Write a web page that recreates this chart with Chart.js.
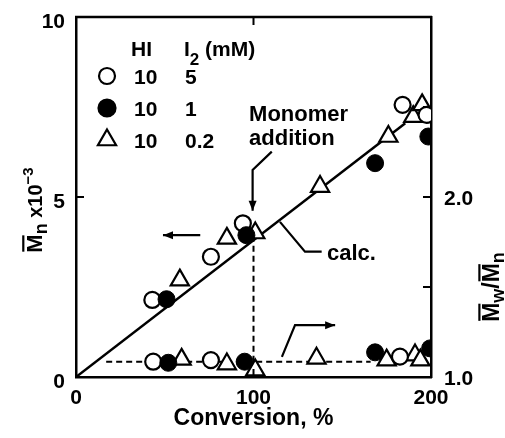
<!DOCTYPE html>
<html>
<head>
<meta charset="utf-8">
<script src="https://cdn.jsdelivr.net/npm/chart.js@4.4.0/dist/chart.umd.min.js"></script>
<style>
  html, body { margin: 0; padding: 0; background: #fff; }
  canvas { display: block; }
</style>
</head>
<body>
<canvas id="chart" width="505" height="438"></canvas>
<script>
const FONT = '"Liberation Sans", Arial, Helvetica, sans-serif';

// --- Mn x 10^-3 vs conversion (left axis)
const openConv = [43, 76, 94, 184, 197.5];
const openMn = [2.14, 3.34, 4.27, 7.56, 7.28];
const filledConv = [51, 96, 168.5, 198.5];
const filledMn = [2.16, 3.94, 5.94, 6.68];
const triConv = [58.5, 85, 101, 137.5, 176, 190, 195];
const triMn = [2.69, 3.85, 4.0, 5.29, 6.68, 7.23, 7.56];

// --- Mw/Mn vs conversion (right axis)
const openPdiConv = [43.5, 76, 182.5];
const openPdi = [1.085, 1.094, 1.113];
const filledPdiConv = [52, 95, 168.5, 199.5];
const filledPdi = [1.079, 1.085, 1.137, 1.159];
const triPdiConv = [59.5, 85, 101, 135.5, 175, 191, 194];
const triPdi = [1.098, 1.072, 1.039, 1.104, 1.094, 1.122, 1.094];

// calculated line and dashed guide lines
const calcConv = [0, 185.5];
const calcMn = [0, 7.05];
const guideConv = [17, 100, 166];
const guidePdi = [1.085, 1.085, 1.085];
const addConv = [100, 100];
const addPdi = [1.085, 1.77];

// axis ticks
const xTicks = [0, 100, 200];
const yTicks = [0, 5, 10];
const y2Labels = [1.0, 2.0];

const pts = (xs, ys) => xs.map((v, i) => ({ x: v, y: ys[i] }));

const openStyle = { pointStyle: 'circle', pointRadius: 8, pointBackgroundColor: '#fff', pointBorderColor: '#000', pointBorderWidth: 2.2, showLine: false };
const filledStyle = { pointStyle: 'circle', pointRadius: 8.5, pointBackgroundColor: '#000', pointBorderColor: '#000', pointBorderWidth: 1, showLine: false };
const triStyle = { pointStyle: 'triangle', pointRadius: 10.5, pointBackgroundColor: '#fff', pointBorderColor: '#000', pointBorderWidth: 2.2, showLine: false };

function arrow(ctx, path, head) {
  ctx.beginPath();
  ctx.moveTo(path[0][0], path[0][1]);
  for (let i = 1; i < path.length; i++) ctx.lineTo(path[i][0], path[i][1]);
  ctx.stroke();
  const [x1, y1] = path[path.length - 2];
  const [x2, y2] = path[path.length - 1];
  const ang = Math.atan2(y2 - y1, x2 - x1);
  ctx.beginPath();
  ctx.moveTo(x2, y2);
  ctx.lineTo(x2 - head * Math.cos(ang) + head * 0.4 * Math.sin(ang), y2 - head * Math.sin(ang) - head * 0.4 * Math.cos(ang));
  ctx.lineTo(x2 - head * Math.cos(ang) - head * 0.4 * Math.sin(ang), y2 - head * Math.sin(ang) + head * 0.4 * Math.cos(ang));
  ctx.closePath();
  ctx.fill();
}

// draws a list of [text, size, dy, bar] pieces from x, returns width
function pieces(ctx, list, x, y, measureOnly) {
  let cx = x;
  list.forEach(([s, size, dy, bar]) => {
    ctx.font = `bold ${size}px ${FONT}`;
    const w = ctx.measureText(s).width;
    if (!measureOnly) {
      ctx.fillText(s, cx, y + dy);
      if (bar) ctx.fillRect(cx + 1, y + dy - size * 0.9, w - 2, 2.2);
    }
    cx += w;
  });
  return cx - x;
}

function legendSymbol(ctx, kind, x, y) {
  ctx.lineWidth = 2.2;
  ctx.beginPath();
  if (kind === 'tri') {
    const r = 10.5;
    ctx.moveTo(x, y - r);
    ctx.lineTo(x + r * Math.sin(2 * Math.PI / 3), y - r * Math.cos(2 * Math.PI / 3));
    ctx.lineTo(x + r * Math.sin(4 * Math.PI / 3), y - r * Math.cos(4 * Math.PI / 3));
    ctx.closePath();
  } else {
    ctx.arc(x, y, kind === 'filled' ? 8.5 : 8, 0, Math.PI * 2);
  }
  ctx.fillStyle = kind === 'filled' ? '#000' : '#fff';
  ctx.fill();
  ctx.stroke();
  ctx.fillStyle = '#000';
}

const deco = {
  id: 'deco',
  afterDraw(chart) {
    const { ctx, chartArea: a, scales: { x, y, y2 } } = chart;
    const px = v => x.getPixelForValue(v);
    const py = v => y.getPixelForValue(v);
    ctx.save();
    ctx.strokeStyle = '#000';
    ctx.fillStyle = '#000';

    // frame top line + inner ticks
    ctx.lineWidth = 2.5;
    ctx.beginPath(); ctx.moveTo(a.left - 1, a.top); ctx.lineTo(a.right + 1, a.top); ctx.stroke();
    ctx.lineWidth = 2;
    ctx.beginPath();
    ctx.moveTo(px(100), a.top); ctx.lineTo(px(100), a.top + 8);
    ctx.moveTo(px(100), a.bottom); ctx.lineTo(px(100), a.bottom - 8);
    ctx.moveTo(a.left, py(5)); ctx.lineTo(a.left + 8, py(5));
    [1.5, 2.0, 2.5].forEach(v => { const yy = y2.getPixelForValue(v); ctx.moveTo(a.right, yy); ctx.lineTo(a.right - 8, yy); });
    ctx.stroke();

    // annotations
    ctx.lineWidth = 2.2;
    arrow(ctx, [[px(110.3), py(6.26)], [px(99.5), py(5.75)], [px(99.5), py(4.62)]], 10);
    arrow(ctx, [[px(70), py(3.94)], [px(49), py(3.94)]], 10);
    arrow(ctx, [[px(116), py(0.56)], [px(123.4), py(1.44)], [px(146), py(1.44)]], 10);
    ctx.beginPath();
    ctx.moveTo(px(114.9), py(4.31)); ctx.lineTo(px(129), py(3.48)); ctx.lineTo(px(138.4), py(3.48));
    ctx.stroke();

    ctx.textBaseline = 'alphabetic';
    ctx.textAlign = 'left';
    ctx.font = `bold 22px ${FONT}`;
    ctx.fillText('Monomer', px(97.5), py(7.1));
    ctx.fillText('addition', px(97.5), py(6.45));
    ctx.fillText('calc.', px(141.4), py(3.48) + 8);

    // legend
    ctx.font = `bold 21px ${FONT}`;
    ctx.fillText('HI', 131, 56);
    pieces(ctx, [['I', 21, 0], ['2', 17, 9], [' (mM)', 21, 0]], 184, 56);
    const rows = [['open', 76, '5'], ['filled', 108, '1'], ['tri', 140, '0.2']];
    rows.forEach(([k, yy, v]) => {
      legendSymbol(ctx, k, 107, yy);
      ctx.font = `bold 21px ${FONT}`;
      ctx.fillText('10', 134, yy + 8);
      ctx.fillText(v, 185, yy + 8);
    });

    // x title
    ctx.textAlign = 'center';
    ctx.font = `bold 23px ${FONT}`;
    ctx.fillText('Conversion, %', (a.left + a.right) / 2, 425);

    // left y title (rotated)
    ctx.textAlign = 'left';
    const leftT = [['M', 22, 0, true], ['n', 18, 5], [' x10', 20, 0], ['\u22123', 15, -9]];
    ctx.save();
    ctx.translate(42, 210);
    ctx.rotate(-Math.PI / 2);
    const lw = pieces(ctx, leftT, 0, 0, true);
    pieces(ctx, leftT, -lw / 2, 0);
    ctx.restore();

    // right y title (rotated)
    const rightT = [['M', 23, 0, true], ['w', 18, 5], ['/', 23, 0], ['M', 23, 0, true], ['n', 18, 5]];
    ctx.save();
    ctx.translate(499, 287);
    ctx.rotate(-Math.PI / 2);
    const rw = pieces(ctx, rightT, 0, 0, true);
    pieces(ctx, rightT, -rw / 2, 0);
    ctx.restore();

    ctx.restore();
  }
};

const tickFont = { family: FONT, size: 21, weight: 'bold' };
const noPad = s => { s.paddingTop = 0; s.paddingBottom = 0; s.paddingLeft = 0; s.paddingRight = 0; };

new Chart(document.getElementById('chart'), {
  type: 'scatter',
  data: {
    datasets: [
      { data: pts(filledConv, filledMn), yAxisID: 'y', ...filledStyle },
      { data: pts(openConv, openMn), yAxisID: 'y', ...openStyle },
      { data: pts(triConv, triMn), yAxisID: 'y', ...triStyle },
      { data: pts(filledPdiConv, filledPdi), yAxisID: 'y2', ...filledStyle },
      { data: pts(openPdiConv, openPdi), yAxisID: 'y2', ...openStyle },
      { data: pts(triPdiConv, triPdi), yAxisID: 'y2', ...triStyle },
      { data: pts(calcConv, calcMn), yAxisID: 'y', showLine: true, borderColor: '#000', borderWidth: 2.5, pointRadius: 0, order: 10 },
      { data: pts(guideConv, guidePdi), yAxisID: 'y2', showLine: true, borderColor: '#000', borderWidth: 2, borderDash: [6, 4], pointRadius: 0, order: 10 },
      { data: pts(addConv, addPdi), yAxisID: 'y2', showLine: true, borderColor: '#000', borderWidth: 2, borderDash: [6, 4], pointRadius: 0, order: 10 }
    ]
  },
  options: {
    responsive: false,
    animation: false,
    devicePixelRatio: 1,
    layout: { padding: { top: 17 } },
    plugins: { legend: { display: false }, tooltip: { enabled: false } },
    scales: {
      x: {
        type: 'linear', min: 0, max: 200,
        afterBuildTicks: s => { s.ticks = xTicks.map(v => ({ value: v })); },
        afterFit: s => { s.height = 61; noPad(s); },
        grid: { display: false, drawTicks: false },
        border: { display: true, color: '#000', width: 2.5 },
        ticks: { color: '#000', padding: 9, font: tickFont }
      },
      y: {
        type: 'linear', position: 'left', min: 0, max: 10,
        afterBuildTicks: s => { s.ticks = yTicks.map(v => ({ value: v })); },
        afterFit: s => { s.width = 76; noPad(s); },
        grid: { display: false, drawTicks: false },
        border: { display: true, color: '#000', width: 2.5 },
        ticks: { color: '#000', padding: 11, labelOffset: 5, font: tickFont }
      },
      y2: {
        type: 'linear', position: 'right', min: 1, max: 3,
        afterBuildTicks: s => { s.ticks = y2Labels.map(v => ({ value: v })); },
        afterFit: s => { s.width = 74; noPad(s); },
        grid: { display: false, drawTicks: false },
        border: { display: true, color: '#000', width: 2.5 },
        ticks: { color: '#000', padding: 13, labelOffset: 2, callback: v => v.toFixed(1), font: tickFont }
      }
    }
  },
  plugins: [deco]
});
</script>
</body>
</html>
